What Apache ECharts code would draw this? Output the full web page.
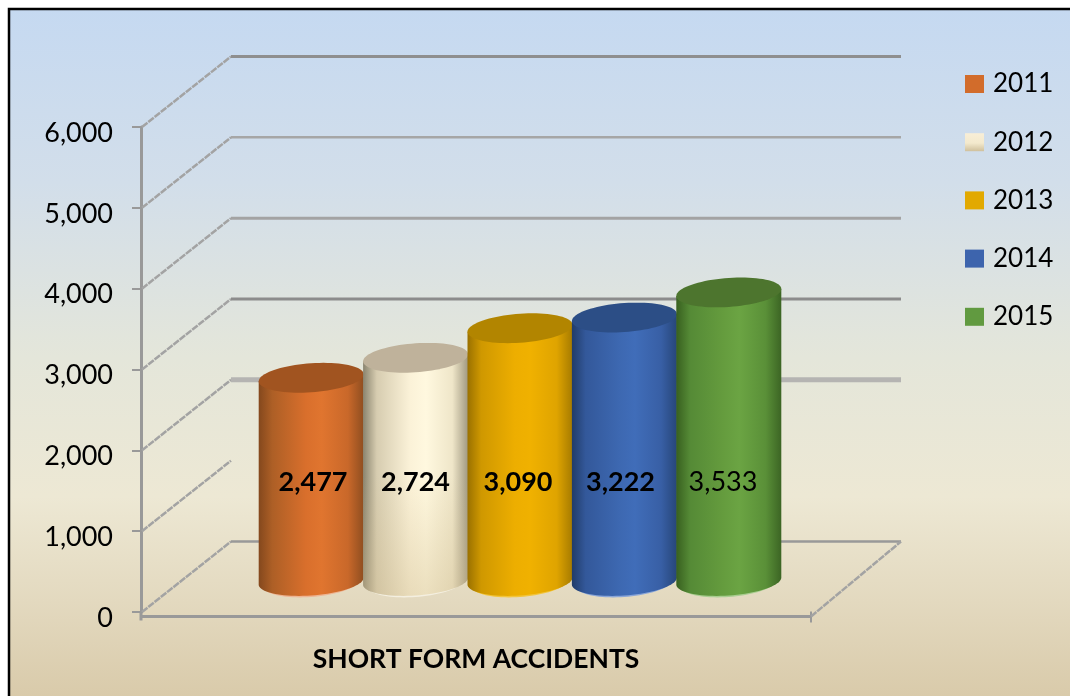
<!DOCTYPE html>
<html>
<head>
<meta charset="utf-8">
<style>html,body{margin:0;padding:0;background:#fff}#c{width:1070px;height:696px}</style>
<script src="https://cdn.jsdelivr.net/npm/echarts@6/dist/echarts.min.js"></script>
</head>
<body>
<div id="c"></div>
<script>
const categories = ['SHORT FORM ACCIDENTS'];
const years = ['2011', '2012', '2013', '2014', '2015'];
const values = [2477, 2724, 3090, 3222, 3533];
const axisTicks = [0, 1000, 2000, 3000, 4000, 5000, 6000];

const FONT = 'Lato';
const DEPTH_X = 90, DEPTH_Y = -70.5;
const BAR_W = 105, BAR_STEP = 104.4, BAR_SHIFT = 44, TOP_LIFT = 34, BASE_LIFT = 31, RY = 14.5, TILT = 3.5;

const palette = [
  { side: ['#84481d', '#ad5f26', '#d96f2c', '#e0752f', '#c9682a', '#8f4e20'], top: '#a15420', fringe: '#eeb594', legend: '#d26c2b' },
  { side: ['#8a846f', '#d6ccb0', '#fbf2d8', '#fff8df', '#efe6c9', '#a09880'], top: '#bfb29b', fringe: '#f4efe0', legend: null },
  { side: ['#9a7100', '#cf9800', '#edae00', '#f0b100', '#dfa400', '#a67b00'], top: '#b28500', fringe: '#f2c53c', legend: '#e2a900' },
  { side: ['#213c69', '#33589a', '#3d68b1', '#406db9', '#385fa5', '#274679'], top: '#2c4e86', fringe: '#8aa6d8', legend: '#3d64ad' },
  { side: ['#38601f', '#558a36', '#659c3e', '#6ba443', '#5a9038', '#3c6524'], top: '#4d752e', fringe: '#a9cd90', legend: '#619a40' }
];
const wallStyle = {
  0: { w: 2.5, c: '#999' }, 1000: { w: 0, c: '#999' }, 2000: { w: 5, c: '#b5b4b2' },
  3000: { w: 3, c: '#8c8c8c' }, 4000: { w: 3, c: '#a3a3a3' }, 5000: { w: 2.5, c: '#a6a6a6' }, 6000: { w: 3, c: '#8f8f8f' }
};

function arc(cx, cy, rx, from, to, n) {
  const pts = [];
  for (let i = 0; i <= n; i++) {
    const t = from + (to - from) * i / n;
    pts.push([cx + rx * Math.cos(t), cy + RY * Math.sin(t) - TILT * Math.cos(t)]);
  }
  return pts;
}
function hGrad(stops) {
  const at = [0, 0.13, 0.45, 0.6, 0.85, 1];
  return new echarts.graphic.LinearGradient(0, 0, 1, 0, stops.map((c, i) => ({ offset: at[i], color: c })));
}

function wallRender(params, api) {
  const v = api.value(1);
  const y = api.coord([0, v])[1];
  const st = wallStyle[v];
  const cs = params.coordSys;
  const left = cs.x;
  const right = cs.x + cs.width + DEPTH_X;
  const kids = [{
    type: 'line',
    shape: { x1: left + 1, y1: y, x2: left + DEPTH_X, y2: y + DEPTH_Y },
    style: { stroke: '#a3a3a3', lineWidth: 2.5, lineDash: [7, 1] }
  }];
  if (st.w) kids.push({
    type: 'line',
    shape: { x1: left + DEPTH_X, y1: y + DEPTH_Y, x2: right, y2: y + DEPTH_Y },
    style: { stroke: st.c, lineWidth: st.w }
  });
  if (v === 0) {
    const by = y + 4.5, rx = cs.x + cs.width;
    kids.push(
      { type: 'line', shape: { x1: cs.x, y1: by, x2: rx, y2: by }, style: { stroke: '#999', lineWidth: 3 } },
      { type: 'line', shape: { x1: cs.x, y1: y, x2: cs.x, y2: by + 4 }, style: { stroke: '#999', lineWidth: 3 } },
      { type: 'line', shape: { x1: rx, y1: by - 5, x2: rx, y2: by + 6 }, style: { stroke: '#999', lineWidth: 2 } },
      { type: 'line', shape: { x1: rx, y1: by, x2: right, y2: y + DEPTH_Y }, style: { stroke: '#a3a3a3', lineWidth: 2.5, lineDash: [7, 1] } }
    );
  }
  return { type: 'group', children: kids };
}

function barRender(i) {
  return function (params, api) {
    const value = api.value(1);
    const c = api.coord([0, 0]);
    const t = api.coord([0, value]);
    const cx = c[0] + BAR_SHIFT + (i - 2) * BAR_STEP;
    const rx = BAR_W / 2;
    const topY = t[1] - TOP_LIFT;
    const baseY = c[1] - BASE_LIFT;
    const pal = palette[i];
    const bottom = arc(cx, baseY, rx, 0, Math.PI, 40);
    const body = [[cx + rx, topY - TILT]].concat(bottom, [[cx - rx, topY + TILT]]);
    const kids = [
      { type: 'polygon', shape: { points: arc(cx, baseY + 1.5, rx - 4, 0, Math.PI, 40) }, style: { fill: pal.fringe } },
      { type: 'polygon', shape: { points: body }, style: { fill: hGrad(pal.side) } }
    ];
    if (i === 1) kids.push({
      type: 'polygon', shape: { points: body },
      style: { fill: new echarts.graphic.LinearGradient(0, 0, 0, 1, [
        { offset: 0, color: 'rgba(205,185,140,0)' }, { offset: 0.5, color: 'rgba(205,185,140,0)' }, { offset: 1, color: 'rgba(205,185,140,0.4)' }
      ]) }
    });
    kids.push({ type: 'polygon', shape: { points: arc(cx, topY, rx, 0, Math.PI * 2, 80) }, style: { fill: pal.top } });
    kids.push({
      type: 'text',
      style: {
        text: echarts.format.addCommas(value),
        x: c[0] + BAR_SHIFT - 2 + (i - 2) * 102.5, y: c[1] - 130,
        align: 'center', verticalAlign: 'middle',
        fontFamily: FONT, fontSize: 27, fontWeight: i === 4 ? 'normal' : 'bold', fill: '#000'
      }
    });
    return { type: 'group', children: kids };
  };
}

const legendColors = palette.map(p => p.legend || new echarts.graphic.LinearGradient(0, 0, 0, 1, [
  { offset: 0, color: '#f8eed7' }, { offset: 0.55, color: '#f3e9cd' }, { offset: 1, color: '#cfc09c' }
]));

const chart = echarts.init(document.getElementById('c'), null, { renderer: 'canvas' });
chart.setOption({
  animation: false,
  backgroundColor: '#fff',
  textStyle: { fontFamily: FONT },
  graphic: [{
    type: 'rect', z: -10, silent: true,
    shape: { x: 9, y: 9, width: 1070, height: 696 },
    style: {
      stroke: '#000', lineWidth: 2.5,
      fill: new echarts.graphic.LinearGradient(0, 0, 0, 1, [
        { offset: 0, color: '#c5d9f1' }, { offset: 0.25, color: '#d2deea' }, { offset: 0.5, color: '#e4e6da' },
        { offset: 0.7, color: '#ede8d4' }, { offset: 0.85, color: '#e3d9bf' }, { offset: 1, color: '#d8c9a8' }
      ])
    }
  }],
  grid: { left: 141, top: 127, width: 670, height: 485 },
  legend: {
    orient: 'vertical', left: 960, top: 63, itemWidth: 19, itemHeight: 18, itemGap: 26.2,
    icon: 'rect', selectedMode: false,
    textStyle: { fontFamily: FONT, fontSize: 26, color: '#000', padding: [2, 0, 0, 4], lineHeight: 30 },
    data: years
  },
  xAxis: {
    type: 'category', data: categories,
    axisLine: { show: false }, axisTick: { show: false }, splitLine: { show: false },
    axisLabel: { margin: 34, fontFamily: FONT, fontSize: 26.5, fontWeight: 'bold', color: '#000' }
  },
  yAxis: {
    type: 'value', min: 0, max: 6000, interval: 1000,
    axisLine: { show: true, lineStyle: { color: '#999', width: 3 } },
    axisTick: { show: true, length: 9, lineStyle: { color: '#999', width: 2 } },
    splitLine: { show: false },
    axisLabel: { margin: 28, fontFamily: FONT, fontSize: 27, color: '#000', verticalAlign: 'top', lineHeight: 12,
      formatter: v => echarts.format.addCommas(v) }
  },
  series: [{
    type: 'custom', name: 'walls', z: 1, clip: false, silent: true,
    renderItem: wallRender, encode: { x: 0, y: 1 },
    data: axisTicks.map(v => [0, v])
  }].concat(years.map((y, i) => ({
    type: 'custom', name: y, z: 2 + i, clip: false,
    itemStyle: { color: legendColors[i] },
    renderItem: barRender(i), encode: { x: 0, y: 1 },
    data: [[0, values[i]]]
  })))
});
</script>
</body>
</html>
